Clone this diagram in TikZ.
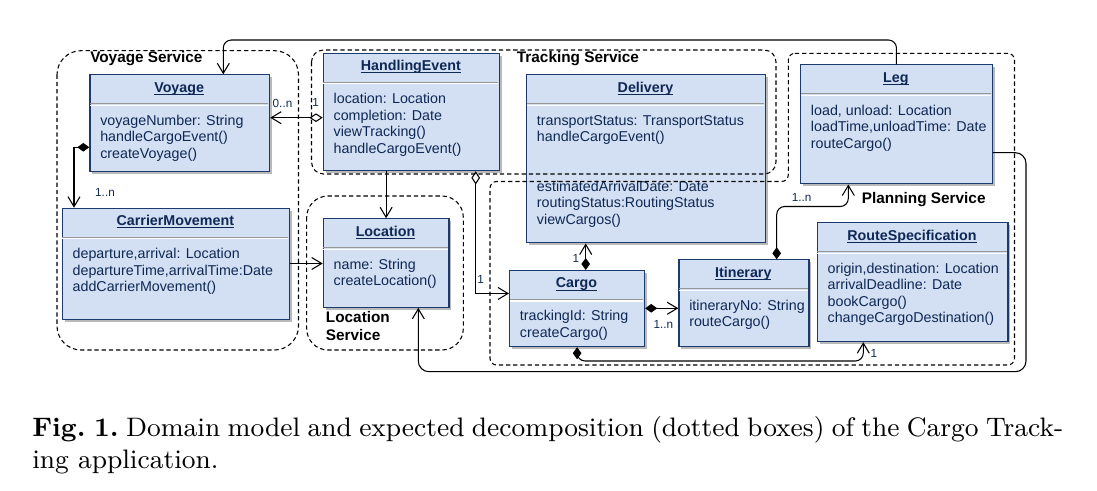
\documentclass[tikz,border=0pt]{standalone}
\usepackage{fontspec}
\usepackage{graphicx}
\usetikzlibrary{arrows.meta}
\newfontfamily\umlfont{Liberation Sans}
\definecolor{clsfill}{RGB}{211,223,242}
\definecolor{clsborder}{RGB}{28,58,108}
\definecolor{clstext}{RGB}{14,40,86}
\definecolor{sepgray}{RGB}{150,150,150}
\definecolor{shadowc}{RGB}{185,185,185}
\tikzset{
  clsbox/.style={draw=clsborder, fill=clsfill, line width=0.9pt, rectangle, inner sep=0pt},
  sepline/.style={draw=sepgray, line width=0.9pt},
  clstitle/.style={text=clstext, font=\umlfont\bfseries\fontsize{10.7}{12.4}\selectfont, inner sep=0pt},
  clsbody/.style={text=clstext, font=\umlfont\fontsize{10.7}{12.4}\selectfont, inner sep=0pt},
  svclabel/.style={text=black, font=\umlfont\bfseries\fontsize{11.5}{13.5}\selectfont, inner sep=0pt},
  svcbox/.style={draw=black, line width=0.8pt, dash pattern=on 3.2pt off 2.2pt},
  mult/.style={text=clstext, font=\umlfont\fontsize{8.8}{10}\selectfont, inner sep=0pt},
  conn/.style={draw=black, line width=0.8pt},
  openarr/.style={-{Straight Barb[length=7.5pt,width=9pt]}},
  fdia/.style={{Diamond[length=9pt,width=6.5pt]}-{Straight Barb[length=7.5pt,width=9pt]}},
  odia/.style={{Diamond[open,fill=white,length=10pt,width=6.5pt]}-{Straight Barb[length=7.5pt,width=9pt]}},
}
\newcommand\ulx[1]{\underline{\smash{#1}}}
\newcommand\linesbox[1]{\parbox[t]{300pt}{\raggedright #1}}
\newcommand\umlclass[7]{%
  \fill[shadowc] (#2+3,#3+3) rectangle ++(#4,#5);
  \node[clsbox, anchor=north west, minimum width=#4*0.75pt, minimum height=#5*0.75pt] (#1) at (#2,#3) {};
  \draw[sepline] (#2+0.6,#3+29.5) -- ++(#4-1.2,0);
  \draw[white, line width=0.8pt] (#2+0.6,#3+31) -- ++(#4-1.2,0);
  \node[clstitle, anchor=base] (#1-t) at (#2+#4/2,#3+18) {\ulx{#6}};
  \node[clsbody, anchor=base west] (#1-b) at (#2+10.7,#3+51) {\linesbox{#7}};
}
\begin{document}
\begin{tikzpicture}[x=0.75pt,y=-0.75pt]
\useasboundingbox (0,0) rectangle (1097,491);

% classes
\umlclass{voyage}{89.3}{74.3}{179.7}{96.7}{Voyage}{voyageNumber: String\\handleCargoEvent()\\createVoyage()}
\umlclass{handling}{322.7}{52.7}{176.3}{117.3}{HandlingEvent}{location: Location\\completion: Date\\viewTracking()\\handleCargoEvent()}
\umlclass{delivery}{526}{74.3}{239}{168}{Delivery}{transportStatus: TransportStatus\\handleCargoEvent()\\[24.8pt]estimatedArrivalDate: Date\\routingStatus:RoutingStatus\\viewCargos()}
\umlclass{leg}{800}{64.3}{191.7}{119}{Leg}{load, unload: Location\\loadTime,unloadTime: Date\\routeCargo()}
\umlclass{carrier}{61.7}{207.7}{227.3}{111.3}{CarrierMovement}{departure,arrival: Location\\departureTime,arrivalTime:Date\\addCarrierMovement()}
\umlclass{location}{322.7}{218.3}{125.6}{88.4}{Location}{name: String\\createLocation()}
\umlclass{cargo}{509}{270}{135}{76}{Cargo}{trackingId: String\\createCargo()}
\umlclass{itinerary}{678.3}{259.3}{130}{86.7}{Itinerary}{itineraryNo: String\\routeCargo()}
\umlclass{routespec}{816.7}{222.3}{190.6}{118.7}{RouteSpecification}{origin,destination: Location\\arrivalDeadline: Date\\bookCargo()\\changeCargoDestination()}

% helper coordinates
\coordinate (h1) at (0,117.7);
\coordinate (c2a) at (0,147.3);
\coordinate (c2b) at (74,0);
\coordinate (c3) at (223.3,40);
\coordinate (c5) at (475.7,293.5);
\coordinate (c6) at (0,263.5);
\coordinate (c7) at (585.7,0);
\coordinate (c8) at (0,308.3);
\coordinate (c9a) at (776.7,0);
\coordinate (c9b) at (848.3,206.5);
\coordinate (c10) at (863.3,361);
\coordinate (c11a) at (0,152.7);
\coordinate (c11b) at (1026,371.7);
\coordinate (c11c) at (418.3,0);

% connectors
\draw[conn, odia] (handling.west |- h1) -- (voyage.east |- h1);
\draw[conn, fdia] (voyage.west |- c2a) -| (carrier.north -| c2b);
\draw[conn, openarr, rounded corners=6pt] (leg.north) |- (c3) -- (voyage.north -| c3);
\draw[conn, openarr] (handling.south -| location.north) -- (location.north);
\draw[conn, odia] (handling.south -| c5) |- (cargo.west |- c5);
\draw[conn, openarr] (carrier.east |- c6) -- (location.west |- c6);
\draw[conn, fdia] (cargo.north -| c7) -- (delivery.south -| c7);
\draw[conn, fdia] (cargo.east |- c8) -- (itinerary.west |- c8);
\draw[conn, fdia, rounded corners=6pt] (itinerary.north -| c9a) |- (c9b) -- (leg.south -| c9b);
\draw[conn, fdia, rounded corners=6pt] (cargo.south) |- (c10) -- (routespec.south -| c10);
\draw[conn, openarr, rounded corners=8pt] (leg.east |- c11a) -| (c11b) -| (location.south -| c11c);

% multiplicities
\node[mult] (m1) at (282.5,103.3) {0..n};
\node[mult] (m2) at (315.7,102.7) {1};
\node[mult] (m3) at (105,192.3) {1..n};
\node[mult] (m4) at (480.7,279) {1};
\node[mult] (m5) at (576,258.3) {1};
\node[mult] (m6) at (663.3,324.3) {1..n};
\node[mult] (m7) at (801.7,197.7) {1..n};
\node[mult] (m8) at (874,353.3) {1};

% service boxes
\draw[svcbox, rounded corners=18pt] (57,50.7) rectangle (298.5,350);
\draw[svcbox, rounded corners=9pt] (311.5,50) rectangle (776,174);
\draw[svcbox, rounded corners=16pt] (306.7,196) rectangle (463.3,350);
\draw[svcbox, rounded corners=5pt] (788.3,53.3) -- (1014.5,53.3) -- (1014.5,365) -- (490,365) -- (490,181.5) -- (788.3,181.5) -- cycle;

\node[svclabel, anchor=west] (lv) at (90,58.3) {Voyage Service};
\node[svclabel, anchor=west] (lt) at (516.7,58.3) {Tracking Service};
\node[svclabel, anchor=west] (lp) at (861.7,199.3) {Planning Service};
\node[svclabel, anchor=base west] (ll) at (325.7,323) {\linesbox{Location\\Service}};

% caption
\node[anchor=base west, inner sep=0pt] (cap) at (32,436.7) {\scalebox{2.2275}{\parbox[t]{12.2cm}{\fontsize{9}{10.8}\selectfont\frenchspacing\textbf{Fig.\ 1.}\ Domain model and expected decomposition (dotted boxes) of the Cargo Track-\linebreak ing application.}}};
\end{tikzpicture}
\end{document}
